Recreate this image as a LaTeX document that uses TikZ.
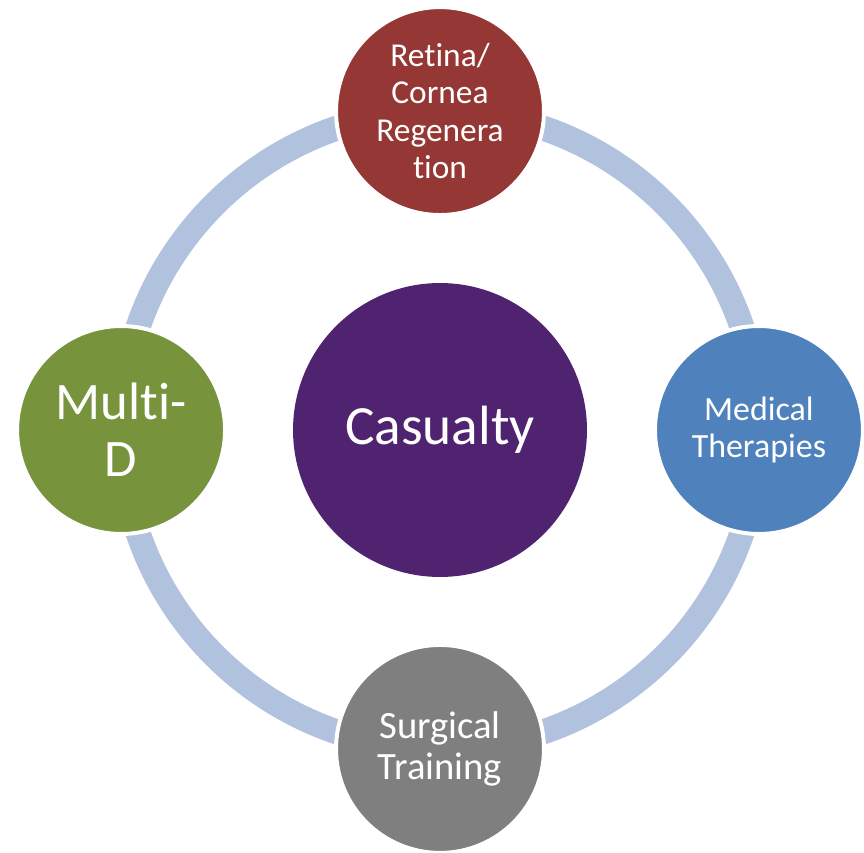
\documentclass[tikz,border=0pt]{standalone}
\usepackage{fontspec}
\setmainfont{Carlito}[Ligatures={NoCommon,NoRequired,NoContextual}]
\usetikzlibrary{positioning}

\definecolor{ringblue}{RGB}{177,194,222}
\definecolor{retinared}{RGB}{149,55,53}
\definecolor{multigreen}{RGB}{119,147,60}
\definecolor{therapyblue}{RGB}{79,129,189}
\definecolor{surgicalgray}{RGB}{127,127,127}
\definecolor{hubpurple}{RGB}{80,35,112}

\begin{document}
\begin{tikzpicture}[
  x=0.02cm, y=0.02cm,
  topic/.style={circle, draw=white, line width=0.08cm, minimum size=4.16cm,
                inner sep=0pt, text=white, align=center},
  hub/.style={circle, fill=hubpurple, minimum size=5.88cm, inner sep=0pt,
              text=white, font=\fontsize{31.5}{36}\selectfont},
  ring/.style={draw=ringblue, line width=0.5cm},
  node distance=6.38cm, on grid
]
  \useasboundingbox (0,0) rectangle (864,852);

  % Centre
  \node[hub] (casualty) at (440,422) {Casualty};

  % Ring behind the outer circles
  \draw[ring] (casualty.center) circle[radius=6.38cm];

  % Outer circles
  \node[topic, fill=retinared, above=of casualty,
        font=\fontsize{19}{21.3}\selectfont] (retina)
        {Retina/\\Cornea\\Regenera\\tion};
  \node[topic, fill=therapyblue, right=of casualty,
        font=\fontsize{19.3}{21.5}\selectfont] (therapies)
        {Medical\\Therapies};
  \node[topic, fill=surgicalgray, below=of casualty,
        font=\fontsize{22}{23.8}\selectfont] (surgical)
        {Surgical\\Training};
  \node[topic, fill=multigreen, left=of casualty,
        font=\fontsize{30}{32.3}\selectfont] (multid)
        {Multi-\\D};
\end{tikzpicture}
\end{document}
